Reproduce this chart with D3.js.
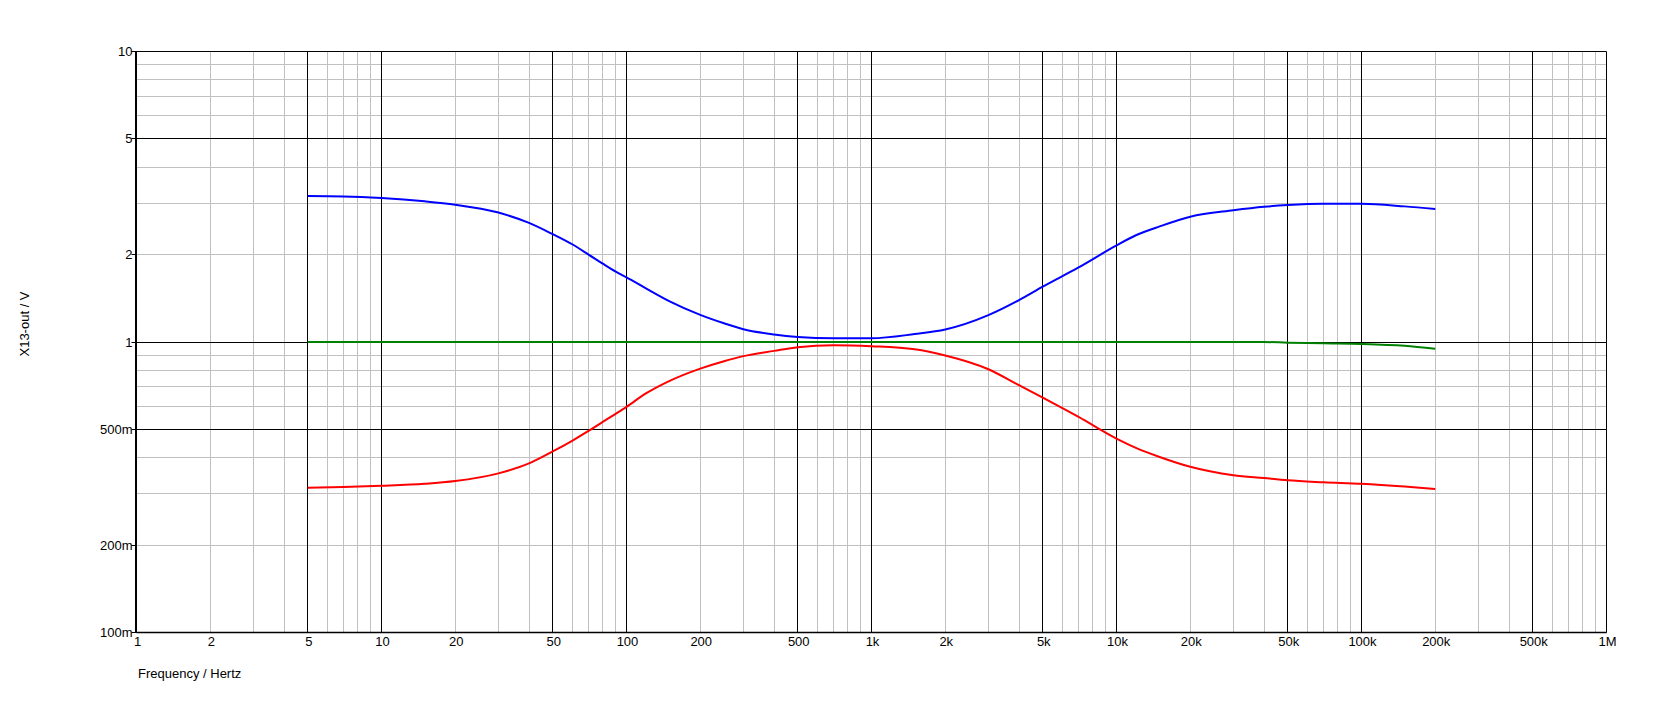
<!DOCTYPE html>
<html><head><meta charset="utf-8">
<script src="https://cdn.jsdelivr.net/npm/d3@7/dist/d3.min.js"></script>
<style>body{margin:0;background:#fff}svg{display:block}text{font-family:"Liberation Sans",Arial,sans-serif;font-size:13px;fill:#000}</style>
</head><body><svg id="c" width="1669" height="717"></svg>
<script>
const xTickValues = [1,2,5,10,20,50,100,200,500,1e3,2e3,5e3,1e4,2e4,5e4,1e5,2e5,5e5,1e6];
const xTickLabels = ["1","2","5","10","20","50","100","200","500","1k","2k","5k","10k","20k","50k","100k","200k","500k","1M"];
const yTickValues = [0.1,0.2,0.5,1,2,5,10];
const yTickLabels = ["100m","200m","500m","1","2","5","10"];
const freqs = [5,7,10,15,20,30,40,50,60,70,80,90,100,120,150,200,250,300,400,500,700,1000,1500,2000,3000,4000,5000,7000,10000,12000,15000,20000,30000,40000,50000,70000,100000,150000,200000];
const blueVals = [3.18,3.17,3.13,3.05,2.97,2.79,2.57,2.35,2.17,2.0,1.86,1.75,1.67,1.53,1.38,1.24,1.16,1.107,1.062,1.041,1.03,1.03,1.065,1.104,1.237,1.393,1.55,1.805,2.15,2.33,2.50,2.70,2.84,2.92,2.96,2.99,2.99,2.93,2.87];
const redVals = [0.315,0.317,0.320,0.325,0.332,0.353,0.382,0.42,0.457,0.494,0.531,0.565,0.598,0.665,0.735,0.81,0.859,0.894,0.932,0.96,0.975,0.967,0.944,0.899,0.806,0.71,0.643,0.552,0.465,0.432,0.402,0.372,0.348,0.34,0.334,0.329,0.325,0.318,0.312];
const greenVals = [1,1,1,1,1,1,1,1,1,1,1,1,1,1,1,1,1,1,1,1,1,1,1,1,1,1,1,1,1,1,1,1,1,1,0.995,0.99,0.985,0.97,0.947];
const xLabel = "Frequency / Hertz";
const yLabel = "X13-out / V";

const svg = d3.select("#c");
const L = 136.5, R = 1606.5, T = 51.5, B = 632.5;
const x = d3.scaleLog().domain([1,1e6]).range([L,R]);
const y = d3.scaleLog().domain([0.1,10]).range([B,T]);
const px = v => Math.round(x(v) - 0.5) + 0.5;
const py = v => Math.round(y(v) - 0.5) + 0.5;

const minorX = [], majorX = [];
for (let d = 1; d < 1e6; d *= 10) {
  for (let k = 1; k < 10; k++) {
    const v = d * k;
    if (k === 1 || k === 5) majorX.push(v); else minorX.push(v);
  }
}
majorX.push(1e6);
const minorY = [], majorY = [];
for (let d = 0.1; d < 9.9; d *= 10) {
  for (let k = 1; k < 10; k++) {
    const v = d * k;
    if (k === 1 || k === 5) majorY.push(v); else minorY.push(v);
  }
}
majorY.push(10);
const g = svg.append("g");
g.selectAll(".mx").data(minorX).join("line").attr("x1",px).attr("x2",px).attr("y1",T).attr("y2",B).attr("stroke","#c0c0c0");
g.selectAll(".my").data(minorY).join("line").attr("y1",py).attr("y2",py).attr("x1",L).attr("x2",R).attr("stroke","#c0c0c0");
g.selectAll(".Mx").data(majorX).join("line").attr("x1",px).attr("x2",px).attr("y1",T).attr("y2",B).attr("stroke","#000");
g.selectAll(".My").data(majorY).join("line").attr("y1",py).attr("y2",py).attr("x1",L).attr("x2",R).attr("stroke","#000");
g.append("line").attr("x1",L-0.5).attr("x2",L-0.5).attr("y1",T-0.5).attr("y2",B+0.5).attr("stroke","#000").attr("stroke-width",2);
g.append("line").attr("x1",L).attr("x2",R).attr("y1",B).attr("y2",B).attr("stroke","#000").attr("stroke-width",1.5);

yTickValues.forEach((v,i) => {
  g.append("line").attr("x1",L-5).attr("x2",L).attr("y1",py(v)).attr("y2",py(v)).attr("stroke","#000");
  g.append("text").attr("x",L-4).attr("y",py(v)+4.5).attr("text-anchor","end").text(yTickLabels[i]);
});
xTickValues.forEach((v,i) => {
  g.append("text").attr("x",x(v)+1).attr("y",646).attr("text-anchor","middle").text(xTickLabels[i]);
});
svg.append("text").attr("x",138).attr("y",678).text(xLabel);
svg.append("text").attr("transform","translate(29,324) rotate(-90)").attr("text-anchor","middle").text(yLabel);

const line = d3.line().x(d => x(d[0])).y(d => y(d[1])).curve(d3.curveMonotoneX);
const series = [[greenVals,"#008000"],[blueVals,"#0000ff"],[redVals,"#ff0000"]];
series.forEach(([vals,col]) => {
  svg.append("path").attr("d", line(freqs.map((f,i)=>[f,vals[i]]))).attr("fill","none").attr("stroke",col).attr("stroke-width",2);
});
</script></body></html>
